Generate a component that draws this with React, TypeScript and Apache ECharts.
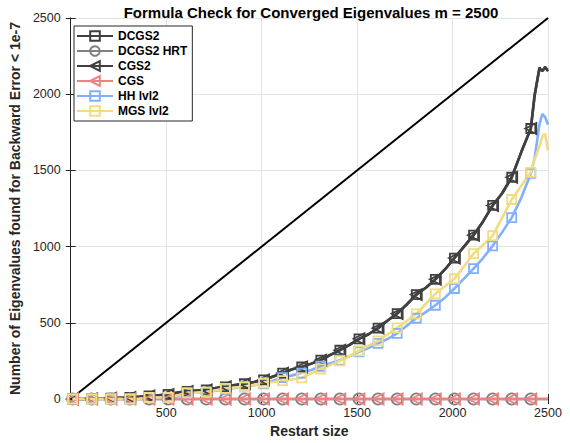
import React, { useEffect, useRef } from "react";
import * as echarts from "echarts";

// Restart sizes sampled along each run; markers sit on every 100th size (10, 110, ...)
const restartSizes = [
  10, 60, 110, 160, 210, 260, 310, 360, 410, 460, 510, 560, 610, 660, 710, 760,
  810, 860, 910, 960, 1010, 1060, 1110, 1160, 1210, 1260, 1310, 1360, 1410, 1460,
  1510, 1560, 1610, 1660, 1710, 1760, 1810, 1860, 1910, 1960, 2010, 2060, 2110,
  2160, 2210, 2260, 2310, 2360, 2410, 2430, 2455, 2470, 2485, 2500,
];

const dcgs2 = [
  0, 0, 2, 3, 5, 8, 10, 15, 20, 25, 30, 42, 50, 55, 60, 72,
  80, 92, 100, 112, 125, 148, 170, 195, 210, 232, 255, 290, 320, 355,
  395, 425, 465, 515, 560, 620, 685, 730, 785, 850, 925, 1000, 1075,
  1165, 1270, 1350, 1455, 1620, 1775, 1990, 2175, 2150, 2180, 2150,
];

const dcgs2Hrt = restartSizes.map(() => 0);

const cgs2 = [
  0, 0, 2, 3, 5, 8, 10, 15, 20, 25, 30, 42, 50, 55, 60, 72,
  80, 92, 100, 112, 125, 148, 170, 195, 210, 232, 255, 290, 320, 355,
  395, 425, 465, 515, 560, 620, 685, 730, 785, 850, 925, 1000, 1075,
  1165, 1270, 1350, 1455, 1620, 1775, 1995, 2165, 2155, 2170, 2160,
];

const cgs = restartSizes.map(() => 0);

const hhLvl2 = [
  0, 0, 0, 0, 0, 0, 0, 2, 10, 10, 10, 20, 40, 42, 45, 55,
  65, 72, 80, 90, 100, 120, 140, 155, 170, 190, 215, 235, 255, 280,
  310, 335, 365, 395, 430, 480, 530, 570, 615, 665, 725, 790, 855,
  925, 1005, 1095, 1190, 1320, 1480, 1580, 1800, 1870, 1850, 1800,
];

const mgsLvl2 = [
  0, 0, 0, 0, 0, 0, 0, 2, 10, 10, 10, 25, 40, 42, 45, 58,
  70, 75, 80, 92, 105, 112, 120, 128, 138, 168, 197, 222, 250, 282,
  316, 350, 382, 425, 467, 512, 559, 625, 690, 740, 789, 870, 954,
  1010, 1072, 1190, 1309, 1400, 1487, 1570, 1660, 1720, 1740, 1630,
];

// Reference line: all eigenvalues found
const referenceLine = [
  [0, 0],
  [2500, 2500],
];

const xTicks = { min: 0, max: 2500, interval: 500 };
const yTicks = { min: 0, max: 2500, interval: 500 };

const FONT = "Liberation Sans, Arial, Helvetica, sans-serif";
const AXIS_COLOR = "#262626";

type SeriesDef = {
  name: string;
  values: number[];
  color: string;
  symbol: string;
  symbolSize: number;
  symbolRotate?: number;
};

const seriesDefs: SeriesDef[] = [
  { name: "DCGS2", values: dcgs2, color: "#404040", symbol: "rect", symbolSize: 9 },
  { name: "DCGS2 HRT", values: dcgs2Hrt, color: "#808080", symbol: "circle", symbolSize: 11 },
  { name: "CGS2", values: cgs2, color: "#404040", symbol: "triangle", symbolSize: 11, symbolRotate: 90 },
  { name: "CGS", values: cgs, color: "#ee8282", symbol: "triangle", symbolSize: 11, symbolRotate: 90 },
  { name: "HH lvl2", values: hhLvl2, color: "#80b0ff", symbol: "rect", symbolSize: 9 },
  { name: "MGS lvl2", values: mgsLvl2, color: "#f2dc82", symbol: "rect", symbolSize: 9 },
];

function buildSeries(def: SeriesDef) {
  const data = restartSizes.map((x, i) => {
    const marked = (x - 10) % 100 === 0;
    return marked ? [x, def.values[i]] : { value: [x, def.values[i]], symbol: "none" };
  });
  return {
    type: "line",
    name: def.name,
    data,
    xAxisIndex: 0,
    yAxisIndex: 0,
    clip: false,
    showSymbol: true,
    symbol: def.symbol,
    symbolSize: def.symbolSize,
    symbolRotate: def.symbolRotate ?? 0,
    lineStyle: { color: def.color, width: 2.6 },
    itemStyle: { color: "rgba(0,0,0,0)", borderColor: def.color, borderWidth: 1.8 },
    emphasis: { disabled: true },
  };
}

export default function App() {
  const ref = useRef<HTMLDivElement>(null);

  useEffect(() => {
    if (!ref.current) return;
    const chart = echarts.init(ref.current, undefined, { renderer: "svg" });

    const boxAxis = {
      axisLine: { show: true, lineStyle: { color: AXIS_COLOR, width: 1 } },
      axisTick: { show: true, inside: true, length: 5, lineStyle: { color: AXIS_COLOR } },
      axisLabel: { show: false },
      splitLine: { show: false },
    };

    chart.setOption({
      animation: false,
      backgroundColor: "#ffffff",
      textStyle: { fontFamily: FONT },
      title: {
        text: "Formula Check for Converged Eigenvalues m = 2500",
        left: 306,
        top: 0,
        textAlign: "center",
        textStyle: { fontFamily: FONT, fontSize: 15, fontWeight: "bold", color: "#000" },
      },
      legend: {
        data: seriesDefs.map((d) => d.name),
        orient: "vertical",
        left: 74,
        top: 26,
        padding: [4, 5, 4, 2],
        itemWidth: 36,
        itemHeight: 12,
        itemGap: 3,
        backgroundColor: "#ffffff",
        borderColor: AXIS_COLOR,
        borderWidth: 1,
        borderRadius: 0,
        textStyle: { fontFamily: FONT, fontSize: 12, fontWeight: "bold", color: "#000", lineHeight: 12 },
        selectedMode: false,
      },
      grid: { left: 66, right: 22, top: 18, bottom: 44, containLabel: false },
      xAxis: [
        {
          type: "value",
          ...xTicks,
          name: "Restart size",
          nameLocation: "middle",
          nameGap: 24,
          nameTextStyle: { fontFamily: FONT, fontSize: 14, fontWeight: "bold", color: "#262626", verticalAlign: "top" },
          axisLine: { show: true, lineStyle: { color: AXIS_COLOR, width: 1 } },
          axisTick: { show: true, inside: true, length: 5, lineStyle: { color: AXIS_COLOR } },
          axisLabel: {
            show: true,
            margin: 7,
            fontFamily: FONT,
            fontSize: 12.5,
            color: "#262626",
            formatter: (v: number) => (v === 0 ? "" : String(v)),
          },
          splitLine: { show: true, lineStyle: { color: "#e3e3e3", width: 1 } },
        },
        { type: "value", position: "top", ...xTicks, ...boxAxis },
      ],
      yAxis: [
        {
          type: "value",
          ...yTicks,
          name: "Number of Eigenvalues found for Backward Error < 1e-7",
          nameLocation: "middle",
          nameGap: 22,
          nameTextStyle: { fontFamily: FONT, fontSize: 14, fontWeight: "bold", color: "#262626" },
          axisLine: { show: true, lineStyle: { color: AXIS_COLOR, width: 1 } },
          axisTick: { show: true, inside: true, length: 5, lineStyle: { color: AXIS_COLOR } },
          axisLabel: {
            show: true,
            margin: 10,
            fontFamily: FONT,
            fontSize: 12.5,
            color: "#262626",
            formatter: (v: number) => String(v),
          },
          splitLine: { show: true, lineStyle: { color: "#e3e3e3", width: 1 } },
        },
        { type: "value", position: "right", ...yTicks, ...boxAxis },
      ],
      series: [
        {
          type: "line",
          name: "reference",
          data: referenceLine,
          symbol: "none",
          clip: false,
          lineStyle: { color: "#000", width: 2 },
          emphasis: { disabled: true },
        },
        ...seriesDefs.map(buildSeries),
      ],
    });

    return () => chart.dispose();
  }, []);

  return (
    <div
      ref={ref}
      style={{ position: "fixed", left: 0, top: 0, width: 570, height: 443 }}
    />
  );
}
